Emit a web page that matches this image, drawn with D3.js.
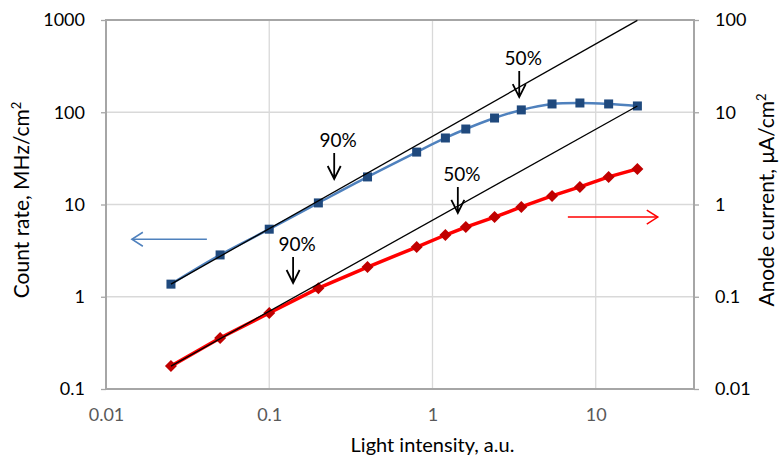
<!DOCTYPE html>
<html>
<head>
<meta charset="utf-8">
<script src="https://cdn.jsdelivr.net/npm/d3@7/dist/d3.min.js"></script>
<style>
  body { margin: 0; background: #fff; }
  svg { display: block; font-family: Lato, "Open Sans", sans-serif; }
</style>
</head>
<body>
<svg></svg>
<script>
var width = 780, height = 460;
var margin = {top: 20, right: 86, bottom: 71, left: 106};

// light intensity, a.u.
var intensity = [0.025, 0.05, 0.1, 0.2, 0.4, 0.8, 1.2, 1.6, 2.4, 3.5, 5.4, 8, 12, 18];
// count rate, MHz/cm2 (left axis)
var countRate = [1.37, 2.84, 5.4, 10.4, 19.9, 37, 52.6, 65.8, 86.6, 106, 123, 126, 123, 117];
// anode current, uA/cm2 (right axis)
var anodeCurrent = [0.0177, 0.0357, 0.0667, 0.124, 0.21, 0.346, 0.467, 0.57, 0.73, 0.94, 1.24, 1.55, 1.99, 2.43];

// linear (proportional) reference lines, two end points each
var countFitX = [0.025, 18], countFitY = [1.37, 990];
var currentFitX = [0.025, 18], currentFitY = [0.0177, 11.7];

var xTicks = [0.01, 0.1, 1, 10];
var leftTicks = [0.1, 1, 10, 100, 1000];
var rightTicks = [0.01, 0.1, 1, 10, 100];

// annotations: label, x value, arrow tip on left axis scale
var notes = [
  {label: '90%', x: 0.25, y: 18.9},
  {label: '50%', x: 3.4, y: 146},
  {label: '90%', x: 0.14, y: 1.41},
  {label: '50%', x: 1.43, y: 8.1}
];

var svg = d3.select('svg').attr('width', width).attr('height', height);
var w = width - margin.left - margin.right;
var h = height - margin.top - margin.bottom;
var g = svg.append('g').attr('transform', 'translate(' + margin.left + ',' + margin.top + ')');

var x = d3.scaleLog().domain([0.01, 40]).range([0, w]);
var yL = d3.scaleLog().domain([0.1, 1000]).range([h, 0]);
var yR = d3.scaleLog().domain([0.01, 100]).range([h, 0]);

// grid
g.append('g').selectAll('line').data(xTicks.slice(1)).enter().append('line')
  .attr('x1', d => x(d)).attr('x2', d => x(d)).attr('y1', 0).attr('y2', h)
  .attr('stroke', '#d9d9d9').attr('stroke-width', 1.3);
g.append('g').selectAll('line').data(leftTicks.slice(1, -1)).enter().append('line')
  .attr('x1', 0).attr('x2', w).attr('y1', d => yL(d)).attr('y2', d => yL(d))
  .attr('stroke', '#d9d9d9').attr('stroke-width', 1.3);

// axes
var fmt = d => String(d);
var xAxis = g.append('g').attr('transform', 'translate(0,' + h + ')')
  .call(d3.axisBottom(x).tickValues(xTicks).tickFormat(fmt).tickSize(0).tickPadding(19));
var lAxis = g.append('g')
  .call(d3.axisLeft(yL).tickValues(leftTicks).tickFormat(fmt).tickSize(5).tickPadding(16));
var rAxis = g.append('g').attr('transform', 'translate(' + w + ',0)')
  .call(d3.axisRight(yR).tickValues(rightTicks).tickFormat(fmt).tickSize(5).tickPadding(16));
[xAxis, lAxis, rAxis].forEach(function(a) {
  a.select('.domain').remove();
  a.selectAll('.tick line').attr('stroke', '#a6a6a6').attr('stroke-width', 1.3);
  a.selectAll('text').attr('font-size', 18).attr('font-family', 'Lato, sans-serif');
});
xAxis.selectAll('text').attr('fill', '#595959');
lAxis.selectAll('text').attr('fill', '#000');
rAxis.selectAll('text').attr('fill', '#000');

// plot frame
g.append('rect').attr('width', w).attr('height', h)
  .attr('fill', 'none').attr('stroke', '#a6a6a6').attr('stroke-width', 2);

// count rate series
var countPts = intensity.map((d, i) => [d, countRate[i]]);
g.append('path').datum(countPts)
  .attr('fill', 'none').attr('stroke', '#4f81bd').attr('stroke-width', 2.5)
  .attr('d', d3.line().x(d => x(d[0])).y(d => yL(d[1])).curve(d3.curveCatmullRom));
g.append('g').selectAll('rect').data(countPts).enter().append('rect')
  .attr('x', d => x(d[0]) - 4.5).attr('y', d => yL(d[1]) - 4.5)
  .attr('width', 9).attr('height', 9).attr('fill', '#1f497d');

// anode current series
var curPts = intensity.map((d, i) => [d, anodeCurrent[i]]);
g.append('path').datum(curPts)
  .attr('fill', 'none').attr('stroke', '#ff0000').attr('stroke-width', 3.5)
  .attr('d', d3.line().x(d => x(d[0])).y(d => yR(d[1])));
g.append('g').selectAll('path').data(curPts).enter().append('path')
  .attr('transform', d => 'translate(' + x(d[0]) + ',' + yR(d[1]) + ')')
  .attr('d', 'M0,-6L6,0L0,6L-6,0Z').attr('fill', '#c00000');

// proportional reference lines
g.append('line')
  .attr('x1', x(countFitX[0])).attr('y1', yL(countFitY[0]))
  .attr('x2', x(countFitX[1])).attr('y2', yL(countFitY[1]))
  .attr('stroke', '#000').attr('stroke-width', 1.3);
g.append('line')
  .attr('x1', x(currentFitX[0])).attr('y1', yR(currentFitY[0]))
  .attr('x2', x(currentFitX[1])).attr('y2', yR(currentFitY[1]))
  .attr('stroke', '#000').attr('stroke-width', 1.3);

// annotation arrows
var arrLen = 26;
var note = g.append('g').selectAll('g').data(notes).enter().append('g')
  .attr('transform', d => 'translate(' + x(d.x) + ',' + yL(d.y) + ')');
note.append('path')
  .attr('d', 'M0,' + (-arrLen) + 'V0M-6.5,-13L0,0L6.5,-13')
  .attr('fill', 'none').attr('stroke', '#000').attr('stroke-width', 1.8);
note.append('text').attr('x', 4).attr('y', -arrLen - 6)
  .attr('text-anchor', 'middle').attr('font-size', 19).text(d => d.label);

// axis-direction arrows
function sideArrow(x0, x1, yy, color, left) {
  var a = g.append('g').attr('stroke', color).attr('stroke-width', 1.5).attr('fill', 'none');
  a.append('line').attr('x1', x0).attr('x2', x1).attr('y1', yy).attr('y2', yy);
  var tip = left ? x0 : x1, s = left ? 1 : -1;
  a.append('path').attr('d', 'M' + (tip + s * 11) + ',' + (yy - 7) + 'L' + tip + ',' + yy + 'L' + (tip + s * 11) + ',' + (yy + 7));
}
sideArrow(x(0.0144), x(0.0415), yL(4.2), '#4f81bd', true);
sideArrow(x(6.75), x(24), yR(0.73), '#ff0000', false);

// axis titles
svg.append('text').attr('x', margin.left + x(1)).attr('y', 452)
  .attr('text-anchor', 'middle').attr('font-size', 20)
  .text('Light intensity, a.u.');
var lt = svg.append('text').attr('transform', 'translate(29,200) rotate(-90)')
  .attr('text-anchor', 'middle').attr('font-size', 21);
lt.append('tspan').text('Count rate, MHz/cm');
lt.append('tspan').attr('dy', -8).attr('font-size', 13).text('2');
var rt = svg.append('text').attr('transform', 'translate(774,200) rotate(-90)')
  .attr('text-anchor', 'middle').attr('font-size', 21);
rt.append('tspan').text('Anode current, \u03bcA/cm');
rt.append('tspan').attr('dy', -8).attr('font-size', 13).text('2');
</script>
</body>
</html>
